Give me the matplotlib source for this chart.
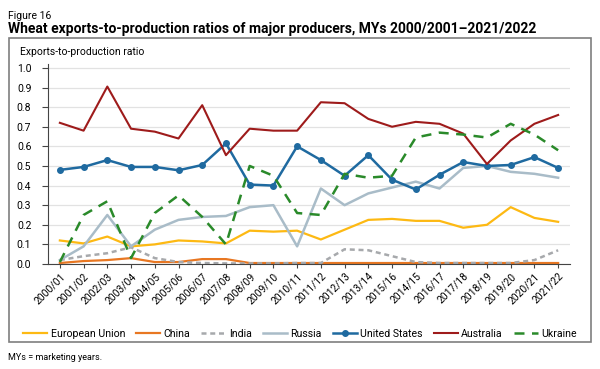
import matplotlib
matplotlib.use("Agg")
import matplotlib.pyplot as plt
from matplotlib.patches import Rectangle

plt.rcParams["font.family"] = ["Roboto", "DejaVu Sans"]

years = ["2000/01", "2001/02", "2002/03", "2003/04", "2004/05", "2005/06",
         "2006/07", "2007/08", "2008/09", "2009/10", "2010/11", "2011/12",
         "2012/13", "2013/14", "2015/16", "2014/15", "2016/17", "2017/18",
         "2018/19", "2019/20", "2020/21", "2021/22"]

eu = [0.12, 0.105, 0.14, 0.09, 0.10, 0.12, 0.115, 0.105, 0.17, 0.165, 0.17,
      0.125, 0.175, 0.225, 0.23, 0.22, 0.22, 0.185, 0.20, 0.29, 0.235, 0.215]
china = [0.005, 0.015, 0.02, 0.03, 0.01, 0.01, 0.025, 0.025, 0.005, 0.005,
         0.005, 0.005, 0.005, 0.005, 0.005, 0.005, 0.005, 0.005, 0.005,
         0.005, 0.005, 0.005]
india = [0.02, 0.04, 0.055, 0.085, 0.03, 0.01, 0.005, 0.003, 0.003, 0.003,
         0.005, 0.005, 0.075, 0.07, 0.04, 0.01, 0.005, 0.005, 0.005, 0.005,
         0.02, 0.07]
russia = [0.02, 0.09, 0.25, 0.09, 0.175, 0.225, 0.24, 0.245, 0.29, 0.30,
          0.09, 0.385, 0.30, 0.36, 0.39, 0.42, 0.385, 0.49, 0.50, 0.47,
          0.46, 0.44]
us = [0.48, 0.495, 0.53, 0.495, 0.495, 0.478, 0.505, 0.615, 0.405, 0.40,
      0.60, 0.53, 0.45, 0.555, 0.43, 0.38, 0.455, 0.52, 0.50, 0.505, 0.545,
      0.49]
australia = [0.72, 0.68, 0.905, 0.69, 0.675, 0.64, 0.81, 0.555, 0.69, 0.68,
             0.68, 0.825, 0.82, 0.74, 0.70, 0.725, 0.715, 0.665, 0.51, 0.63,
             0.715, 0.76]
ukraine = [0.01, 0.25, 0.32, 0.03, 0.26, 0.35, 0.24, 0.10, 0.50, 0.45, 0.26,
           0.25, 0.46, 0.44, 0.45, 0.645, 0.67, 0.66, 0.645, 0.715, 0.66, 0.58]

fig = plt.figure(figsize=(6, 3.69), dpi=100)

# outer frame
fig.patches.append(Rectangle((9 / 600, 1 - 342 / 369), 582 / 600, 304 / 369,
                             transform=fig.transFigure, fill=False,
                             edgecolor="#7f7f7f", linewidth=1.2))

fig.text(8 / 600, 1 - 16 / 369, "Figure 16", fontsize=7.5, va="center")
fig.text(8 / 600, 1 - 29 / 369,
         "Wheat exports-to-production ratios of major producers, MYs 2000/2001\u20132021/2022",
         fontsize=10, fontweight="bold", va="center")
fig.text(20 / 600, 1 - 52 / 369, "Exports-to-production ratio", fontsize=7.5,
         va="center")
fig.text(8 / 600, 1 - 358 / 369, "MYs = marketing years.", fontsize=6.5,
         va="center")

ax = fig.add_axes([48 / 600, 1 - 264 / 369, 522 / 600, 200 / 369])
x = list(range(len(years)))

ax.plot(x, eu, color="#fdb913", lw=1.6, label="European Union")
ax.plot(x, china, color="#e87722", lw=1.6, label="China")
ax.plot(x, india, color="#a7a9ac", lw=1.8, ls=(0, (2, 1.5)), label="India")
ax.plot(x, russia, color="#a9bcc8", lw=1.8, label="Russia")
ax.plot(x, us, color="#1f6aa0", lw=1.8, marker="o", ms=4, label="United States")
ax.plot(x, australia, color="#9e1b1b", lw=1.5, label="Australia")
ax.plot(x, ukraine, color="#2a8a2a", lw=1.8, ls=(0, (4, 3)), label="Ukraine")

ax.set_xlim(-0.5, 21.5)
ax.set_ylim(0, 1.02)
ax.set_yticks([i / 10 for i in range(11)])
ax.set_yticklabels([f"{i / 10:.1f}" for i in range(11)])
ax.set_xticks(x)
ax.set_xticklabels(years, rotation=45, ha="right", rotation_mode="anchor")
ax.tick_params(axis="x", labelsize=7.4, length=3, color="#444444", pad=2)
ax.tick_params(axis="y", labelsize=7.5, length=4, color="#444444", pad=8)
ax.grid(axis="y", color="#e2e2e2", lw=0.9)
ax.set_axisbelow(True)
for s in ["top", "right"]:
    ax.spines[s].set_visible(False)
ax.spines["left"].set_color("#444444")
ax.spines["bottom"].set_color("#444444")

fig.legend(loc="center", bbox_to_anchor=(300 / 600, 1 - 334 / 369), ncol=7,
           frameon=False, fontsize=7.6, handlelength=2.3, columnspacing=1.05,
           handletextpad=0.3)

fig.savefig("out.png", dpi=100)
